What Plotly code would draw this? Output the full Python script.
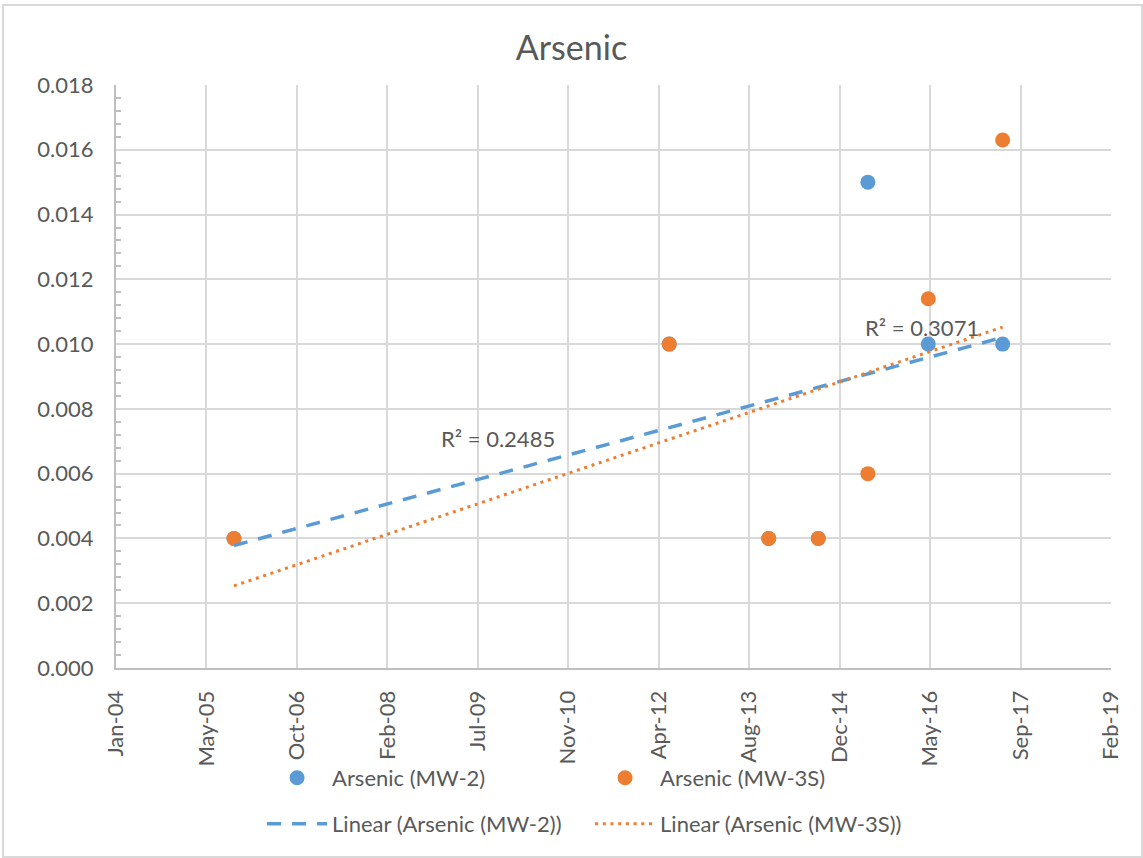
import numpy as np
import pandas as pd
import plotly.graph_objects as go

# Sampling dates shared by both wells
sample_dates = ["2005-10-27", "2012-05-29", "2013-11-30", "2014-08-31",
                "2015-06-01", "2016-04-30", "2017-06-15"]
arsenic_mw2 = [0.004, 0.010, 0.004, 0.004, 0.015, 0.010, 0.010]
arsenic_mw3s = [0.004, 0.010, 0.004, 0.004, 0.006, 0.0114, 0.0163]

# Axis ticks: every 500 days
x_tick_dates = ["2004-01-14", "2005-05-28", "2006-10-10", "2008-02-22",
                "2009-07-06", "2010-11-18", "2012-04-01", "2013-08-14",
                "2014-12-27", "2016-05-10", "2017-09-22", "2019-02-04"]
x_tick_labels = ["Jan-04", "May-05", "Oct-06", "Feb-08", "Jul-09", "Nov-10",
                 "Apr-12", "Aug-13", "Dec-14", "May-16", "Sep-17", "Feb-19"]

r2_labels = ["R² = 0.2485", "R² = 0.3071"]

BLUE = "#5B9BD5"
ORANGE = "#ED7D31"
TEXT = "#595959"
GRID = "#D9D9D9"
FONT = "Lato"
FS = 22

dates = pd.to_datetime(sample_dates)
days = (dates - pd.Timestamp("1899-12-30")).days.to_numpy(dtype=float)


def trend(values):
    slope, intercept = np.polyfit(days, np.asarray(values), 1)
    ends = np.array([days.min(), days.max()])
    xs = pd.Timestamp("1899-12-30") + pd.to_timedelta(ends, unit="D")
    return xs, slope * ends + intercept


fig = go.Figure()

fig.add_trace(go.Scatter(
    x=dates, y=arsenic_mw2, mode="markers", name="Arsenic (MW-2)",
    marker=dict(color=BLUE, size=15), legend="legend"))
fig.add_trace(go.Scatter(
    x=dates, y=arsenic_mw3s, mode="markers", name="Arsenic (MW-3S)",
    marker=dict(color=ORANGE, size=15), legend="legend"))

tx, ty = trend(arsenic_mw2)
fig.add_trace(go.Scatter(
    x=tx, y=ty, mode="lines", name="Linear (Arsenic (MW-2))",
    line=dict(color=BLUE, width=3.5, dash="14px,11px"), legend="legend2"))
tx, ty = trend(arsenic_mw3s)
fig.add_trace(go.Scatter(
    x=tx, y=ty, mode="lines", name="Linear (Arsenic (MW-3S))",
    line=dict(color=ORANGE, width=3, dash="3px,4.7px"), legend="legend2"))

# Trendline R² labels
fig.add_annotation(x="2009-10-26", y=0.0071, text=r2_labels[0], showarrow=False,
                   font=dict(family=FONT, size=FS, color=TEXT))
fig.add_annotation(x="2016-03-29", y=0.0105, text=r2_labels[1], showarrow=False,
                   font=dict(family=FONT, size=FS, color=TEXT))

# Chart-area border
fig.add_shape(type="rect", xref="paper", yref="paper",
              x0=-0.1136, x1=1.0312, y0=-0.3242, y1=1.1372,
              line=dict(color=GRID, width=2), layer="below")

legend_common = dict(
    orientation="h", xanchor="left", yanchor="middle",
    font=dict(family=FONT, size=FS, color=TEXT),
    itemwidth=60, entrywidth=253, entrywidthmode="pixels",
    bgcolor="rgba(0,0,0,0)", tracegroupgap=0)

fig.update_layout(
    width=1143, height=858,
    margin=dict(l=116, r=32, t=85, b=190),
    paper_bgcolor="white", plot_bgcolor="white",
    font=dict(family=FONT, color=TEXT),
    title=dict(text="Arsenic", x=0.5, xanchor="center", y=0.944, yanchor="middle",
               font=dict(family=FONT, size=34, color=TEXT)),
    showlegend=True,
    legend=dict(x=0.1468, y=-0.1887, **legend_common),
    legend2=dict(x=0.1468, y=-0.2676, **legend_common),
    xaxis=dict(
        type="date", range=[x_tick_dates[0], x_tick_dates[-1]],
        tickmode="array", tickvals=x_tick_dates, ticktext=x_tick_labels,
        tickangle=-90, ticks="", ticklabelstandoff=12,
        showgrid=True, gridcolor=GRID, gridwidth=2,
        showline=True, linecolor="#BFBFBF", linewidth=2,
        zeroline=False, tickfont=dict(family=FONT, size=FS, color=TEXT)),
    yaxis=dict(
        range=[0, 0.018], tickmode="linear", tick0=0, dtick=0.002,
        tickformat=".3f", ticks="", ticklabelstandoff=16,
        showgrid=True, gridcolor=GRID, gridwidth=2,
        showline=True, linecolor="#BFBFBF", linewidth=2, zeroline=False,
        minor=dict(dtick=0.0004, ticks="inside", ticklen=5,
                   tickcolor="#BFBFBF", tickwidth=2, showgrid=False),
        tickfont=dict(family=FONT, size=FS, color=TEXT)),
)

fig.write_html("out.html")
